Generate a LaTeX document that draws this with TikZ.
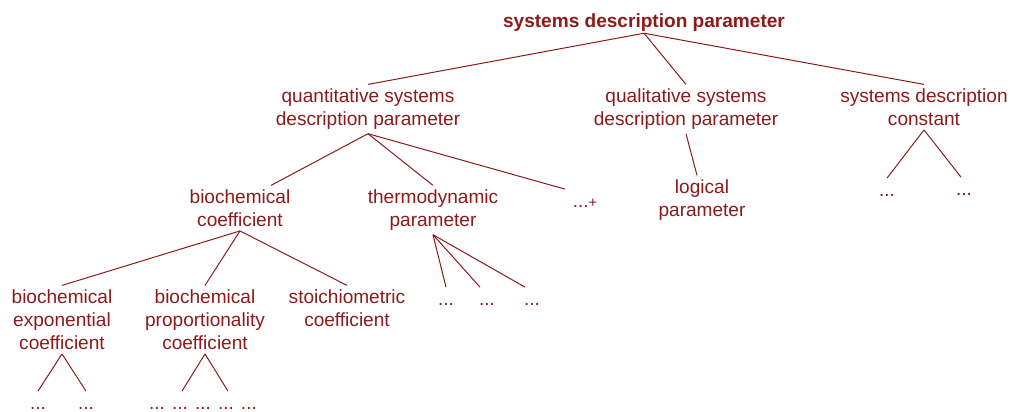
\documentclass[tikz,border=0pt]{standalone}
\usepackage{fontspec}
\setmainfont{Liberation Sans}
\usetikzlibrary{calc}
\definecolor{treered}{RGB}{139,26,26}

\begin{document}
\begin{tikzpicture}[x=0.75pt, y=-0.75pt,
  every node/.style={text=treered, font=\fontsize{14.3}{17.25}\selectfont},
  concept/.style={align=center, inner sep=3pt, anchor=north},
  more/.style={inner sep=3pt, anchor=base, text height=10.2pt},
  branch/.style={draw=treered, line width=0.75pt}]
\useasboundingbox (0,0) rectangle (1011,411);

\node[font=\fontsize{14.3}{17.25}\selectfont\bfseries, inner sep=1.5pt, anchor=base] (sdp) at (644,27) {systems description parameter};

\node[concept] (qsdp) at (368,84.4) {quantitative systems\\description parameter};
\node[concept] (lsdp) at (686,84.4) {qualitative systems\\description parameter};
\node[concept] (sdc) at (924,84.4) {systems description\\constant};

\node[concept] (bc) at (240,185.4) {biochemical\\coefficient};
\node[concept] (tp) at (433,185.4) {thermodynamic\\parameter};
\node[more] (qmore) at (585,207) {...{\fontsize{11}{12}\selectfont+}};
\node[concept] (lp) at (702,175.4) {logical\\parameter};
\node[more] (cmore1) at (887,196) {...};
\node[more] (cmore2) at (964,195) {...};

\node[concept] (bec) at (62,285.4) {biochemical\\exponential\\coefficient};
\node[concept] (bpc) at (205,285.4) {biochemical\\proportionality\\coefficient};
\node[concept] (sc) at (347,285.4) {stoichiometric\\coefficient};
\node[more] (tmore1) at (446,305) {...};
\node[more] (tmore2) at (487,305) {...};
\node[more] (tmore3) at (532,305) {...};

\node[more] (emore1) at (38,409) {...};
\node[more] (emore2) at (86,409) {...};
\node[more] (pmore) at (203,409) {... ... ... ... ...};

\draw[branch] (sdp.south) -- (qsdp.north);
\draw[branch] (sdp.south) -- (lsdp.north);
\draw[branch] (sdp.south) -- (sdc.north);

\draw[branch] (qsdp.south) -- ($(bc.north)+(31,0)$);
\draw[branch] (qsdp.south) -- (tp.north);
\draw[branch] (qsdp.south) -- ($(qmore.north)+(-20,0)$);
\draw[branch] (lsdp.south) -- ($(lp.north)+(-5,0)$);
\draw[branch] (sdc.south) -- (cmore1.north);
\draw[branch] (sdc.south) -- ($(cmore2.north)+(-3,0)$);

\draw[branch] (bc.south) -- (bec.north);
\draw[branch] (bc.south) -- (bpc.north);
\draw[branch] (bc.south) -- (sc.north);
\draw[branch] (tp.south) -- (tmore1.north);
\draw[branch] (tp.south) -- ($(tmore2.north)+(-7,0)$);
\draw[branch] (tp.south) -- ($(tmore3.north)+(-7,0)$);

\draw[branch] (bec.south) -- (emore1.north);
\draw[branch] (bec.south) -- (emore2.north);
\draw[branch] (bpc.south) -- ($(pmore.north)+(-21,0)$);
\draw[branch] (bpc.south) -- ($(pmore.north)+(25,0)$);
\end{tikzpicture}
\end{document}
